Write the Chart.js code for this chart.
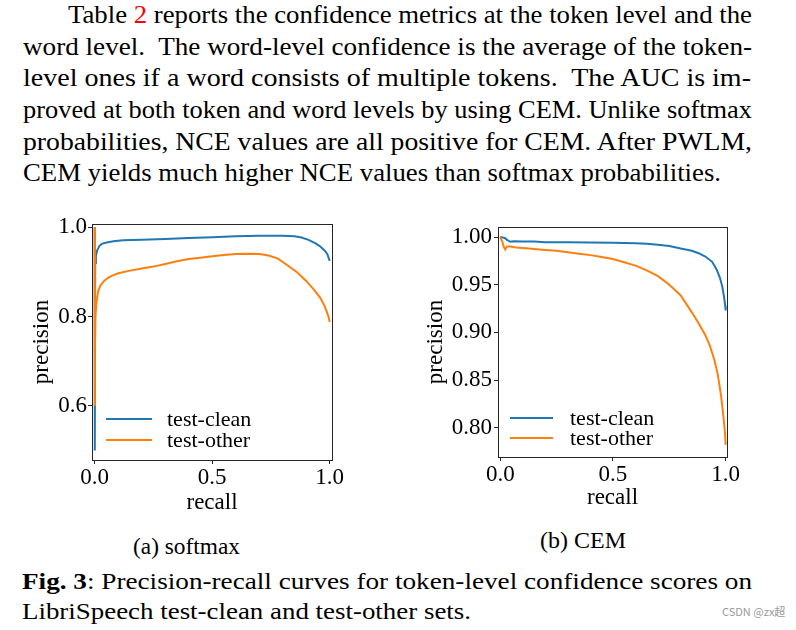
<!DOCTYPE html>
<html>
<head>
<meta charset="utf-8">
<script src="https://cdn.jsdelivr.net/npm/chart.js@4.4.0/dist/chart.umd.min.js"></script>
<style>
  body{margin:0;background:#fff;width:796px;height:630px;overflow:hidden;position:relative;
       font-family:"Liberation Serif","Times New Roman",serif;color:#000}
  .ln{position:absolute;white-space:pre;line-height:1;transform-origin:0 0}
  canvas{position:absolute}
  .red{color:#ff0000}
</style>
</head>
<body>
<canvas id="softChart" width="340" height="312" style="left:10px;top:205px"></canvas>
<canvas id="cemChart" width="325" height="302" style="left:420px;top:210px"></canvas>
<script>
// ---- data (recall / precision pairs) ----
const seriesNames = ['test-clean', 'test-other'];
const seriesColors = ['#1f77b4', '#ff7f0e'];

// (a) softmax
const softRecallClean = [0, 0.0005, 0.002, 0.005, 0.01, 0.02, 0.03, 0.05, 0.08, 0.12, 0.2, 0.3, 0.4, 0.5, 0.6, 0.7, 0.8, 0.85, 0.88, 0.91, 0.94, 0.96, 0.98, 0.99, 1.0];
const softPrecClean   = [1.0, 0.5, 0.92, 0.935, 0.948, 0.958, 0.963, 0.966, 0.969, 0.971, 0.972, 0.974, 0.976, 0.978, 0.98, 0.981, 0.981, 0.98, 0.977, 0.972, 0.964, 0.957, 0.947, 0.94, 0.925];
const softRecallOther = [0, 0.0005, 0.001, 0.003, 0.007, 0.015, 0.025, 0.04, 0.06, 0.08, 0.1, 0.15, 0.2, 0.25, 0.3, 0.35, 0.4, 0.45, 0.5, 0.55, 0.6, 0.65, 0.7, 0.74, 0.78, 0.82, 0.86, 0.9, 0.93, 0.96, 0.98, 0.995, 1.0];
const softPrecOther   = [1.0, 0.6, 0.72, 0.8, 0.83, 0.858, 0.87, 0.88, 0.888, 0.893, 0.897, 0.903, 0.908, 0.912, 0.918, 0.924, 0.929, 0.932, 0.935, 0.938, 0.94, 0.941, 0.94, 0.937, 0.93, 0.915, 0.9, 0.88, 0.862, 0.842, 0.822, 0.8, 0.788];

// (b) CEM
const cemRecallClean = [0, 0.01, 0.02, 0.03, 0.045, 0.06, 0.1, 0.15, 0.2, 0.3, 0.4, 0.5, 0.6, 0.65, 0.7, 0.75, 0.8, 0.85, 0.88, 0.91, 0.94, 0.96, 0.975, 0.985, 0.993, 0.998, 1.0];
const cemPrecClean   = [1.0, 0.9995, 0.999, 0.997, 0.995, 0.9955, 0.9953, 0.9952, 0.9945, 0.9944, 0.9942, 0.994, 0.9935, 0.993, 0.992, 0.9905, 0.988, 0.9855, 0.983, 0.9795, 0.974, 0.966, 0.957, 0.948, 0.937, 0.928, 0.923];
const cemRecallOther = [0, 0.008, 0.015, 0.022, 0.03, 0.045, 0.07, 0.1, 0.15, 0.2, 0.25, 0.3, 0.35, 0.4, 0.45, 0.5, 0.55, 0.6, 0.65, 0.7, 0.75, 0.8, 0.85, 0.88, 0.91, 0.93, 0.95, 0.965, 0.98, 0.99, 0.997, 1.0];
const cemPrecOther   = [1.0, 0.996, 0.99, 0.987, 0.99, 0.99, 0.989, 0.9885, 0.9875, 0.9865, 0.9855, 0.984, 0.9825, 0.981, 0.979, 0.977, 0.9735, 0.97, 0.965, 0.959, 0.95, 0.939, 0.921, 0.9095, 0.897, 0.886, 0.871, 0.856, 0.833, 0.812, 0.795, 0.782];

// tick labels
const xTicks = [0.0, 0.5, 1.0];
const softYTicks = [0.6, 0.8, 1.0];
const cemYTicks = [0.80, 0.85, 0.90, 0.95, 1.00];

// ---- text of the page ----
const textLines = [
  {html:'Table <span class="red">2</span> reports the confidence metrics at the token level and the', x:68, end:752, base:24, size:26},
  {html:'word level.  The word-level confidence is the average of the token-', x:23, end:752, base:55.5, size:26},
  {html:'level ones if a word consists of multiple tokens.  The AUC is im-', x:23, end:751, base:87, size:26},
  {html:'proved at both token and word levels by using CEM. Unlike softmax', x:23, end:752, base:119, size:26},
  {html:'probabilities, NCE values are all positive for CEM. After PWLM,', x:23, end:752, base:150.5, size:26},
  {html:'CEM yields much higher NCE values than softmax probabilities.', x:23, end:721, base:181.5, size:26},
  {html:'(a) softmax', x:133, end:240, base:554, size:23},
  {html:'(b) CEM', x:540, end:626, base:548, size:23},
  {html:'<b>Fig. 3</b>: Precision-recall curves for token-level confidence scores on', x:22, end:752, base:589, size:24},
  {html:'LibriSpeech test-clean and test-other sets.', x:22, end:471, base:619, size:24}
];

function placeText(){
  document.querySelectorAll('.ln').forEach(n => n.remove());
  textLines.forEach(l => {
    const d = document.createElement('div');
    d.className = 'ln';
    d.innerHTML = l.html;
    d.style.fontSize = l.size + 'px';
    d.style.left = l.x + 'px';
    d.style.top = (l.base - 0.8375 * l.size) + 'px';
    document.body.appendChild(d);
    const w = d.getBoundingClientRect().width;
    d.style.transform = 'scaleX(' + ((l.end - l.x) / w) + ')';
  });
  const wm = document.createElement('div');
  wm.className = 'ln';
  wm.textContent = 'CSDN @zx超';
  wm.style.cssText += 'left:722px;top:606px;font-size:11px;color:#9a9a9a;font-family:"Noto Sans CJK SC","Noto Sans",sans-serif';
  document.body.appendChild(wm);
}

// ---- chart helpers ----
const pts = (xs, ys) => xs.map((x, i) => ({x: x, y: ys[i]}));
const FONT = {family: '"Liberation Serif","Times New Roman",serif', size: 23};
const INK = '#262626';

// box around the plot area (matplotlib spines)
const frameBox = {
  id: 'frameBox',
  afterDraw(c){
    const {ctx, chartArea: a} = c;
    ctx.save();
    ctx.strokeStyle = INK;
    ctx.lineWidth = 1;
    ctx.strokeRect(Math.round(a.left) + 0.5, Math.round(a.top) + 0.5,
                   Math.round(a.right - a.left), Math.round(a.bottom - a.top));
    ctx.restore();
  }
};

// legend drawn inside the lower-left corner of the plot
const innerLegend = {
  id: 'innerLegend',
  afterDraw(c, args, o){
    const {ctx, chartArea: a} = c;
    ctx.save();
    ctx.font = '22px ' + FONT.family;
    ctx.textBaseline = 'middle';
    c.data.datasets.forEach((ds, i) => {
      const y = a.bottom - o.bottom + i * o.gap;
      const x0 = a.left + o.left;
      ctx.strokeStyle = ds.borderColor;
      ctx.lineWidth = 2;
      ctx.beginPath();
      ctx.moveTo(x0, y);
      ctx.lineTo(x0 + o.len, y);
      ctx.stroke();
      ctx.fillStyle = '#000';
      ctx.fillText(ds.label, x0 + o.len + o.pad, y + 1);
    });
    ctx.restore();
  }
};

function makeChart(id, cfg){
  // later series is drawn on top, as in the original
  const datasets = cfg.series.map((s, i) => ({
    label: seriesNames[i],
    data: pts(s[0], s[1]),
    borderColor: seriesColors[i],
    backgroundColor: seriesColors[i],
    borderWidth: 2,
    pointRadius: 0,
    showLine: true,
    tension: 0,
    order: cfg.series.length - i
  }));
  const grid = {display: true, drawOnChartArea: false, drawTicks: true, tickLength: 4, color: INK, tickColor: INK};
  return new Chart(document.getElementById(id), {
    type: 'scatter',
    data: {datasets},
    options: {
      responsive: false,
      animation: false,
      devicePixelRatio: 1,
      layout: {padding: {top: cfg.padTop, right: cfg.padRight, left: 0, bottom: 0}},
      plugins: {
        legend: {display: false},
        tooltip: {enabled: false},
        innerLegend: cfg.legend
      },
      scales: {
        x: {
          type: 'linear', min: cfg.xMin, max: cfg.xMax,
          grid: grid, border: {display: false},
          afterBuildTicks: s => { s.ticks = xTicks.map(v => ({value: v})); },
          afterFit: s => { s.height = cfg.xHeight; s.paddingLeft = 0; s.paddingRight = 0; },
          ticks: {font: FONT, color: '#000', padding: 0, maxRotation: 0, callback: v => v.toFixed(1)},
          title: {display: true, text: 'recall', font: FONT, color: '#000', padding: {top: 0, bottom: 0}}
        },
        y: {
          type: 'linear', min: cfg.yMin, max: cfg.yMax,
          grid: grid, border: {display: false},
          afterBuildTicks: s => { s.ticks = cfg.yTicks.map(v => ({value: v})); },
          afterFit: s => { s.width = cfg.yWidth; s.paddingTop = 0; s.paddingBottom = 0; },
          ticks: {font: FONT, color: '#000', padding: cfg.yTickPad, callback: v => v.toFixed(cfg.yDigits)},
          title: {display: true, text: 'precision', font: FONT, color: '#000', padding: {top: cfg.yTitlePad, bottom: 0}}
        }
      }
    },
    plugins: [frameBox, innerLegend]
  });
}

window.addEventListener('load', () => {
  placeText();
  makeChart('softChart', {
    series: [[softRecallClean, softPrecClean], [softRecallOther, softPrecOther]],
    xMin: -0.0115, xMax: 1.0098, yMin: 0.479, yMax: 1.0074,
    yTicks: softYTicks, yDigits: 1,
    padTop: 19, padRight: 18, yWidth: 82, xHeight: 57, yTickPad: 1, yTitlePad: 18,
    legend: {left: 14, len: 46, pad: 15, bottom: 41, gap: 21}
  });
  makeChart('cemChart', {
    series: [[cemRecallClean, cemPrecClean], [cemRecallOther, cemPrecOther]],
    xMin: -0.010, xMax: 1.006, yMin: 0.7693, yMax: 1.0105,
    yTicks: cemYTicks, yDigits: 2,
    padTop: 17, padRight: 18, yWidth: 78, xHeight: 55, yTickPad: 2, yTitlePad: 2,
    legend: {left: 12, len: 43, pad: 17, bottom: 39, gap: 20}
  });
  if (document.fonts) document.fonts.ready.then(placeText);
});
</script>
</body>
</html>
